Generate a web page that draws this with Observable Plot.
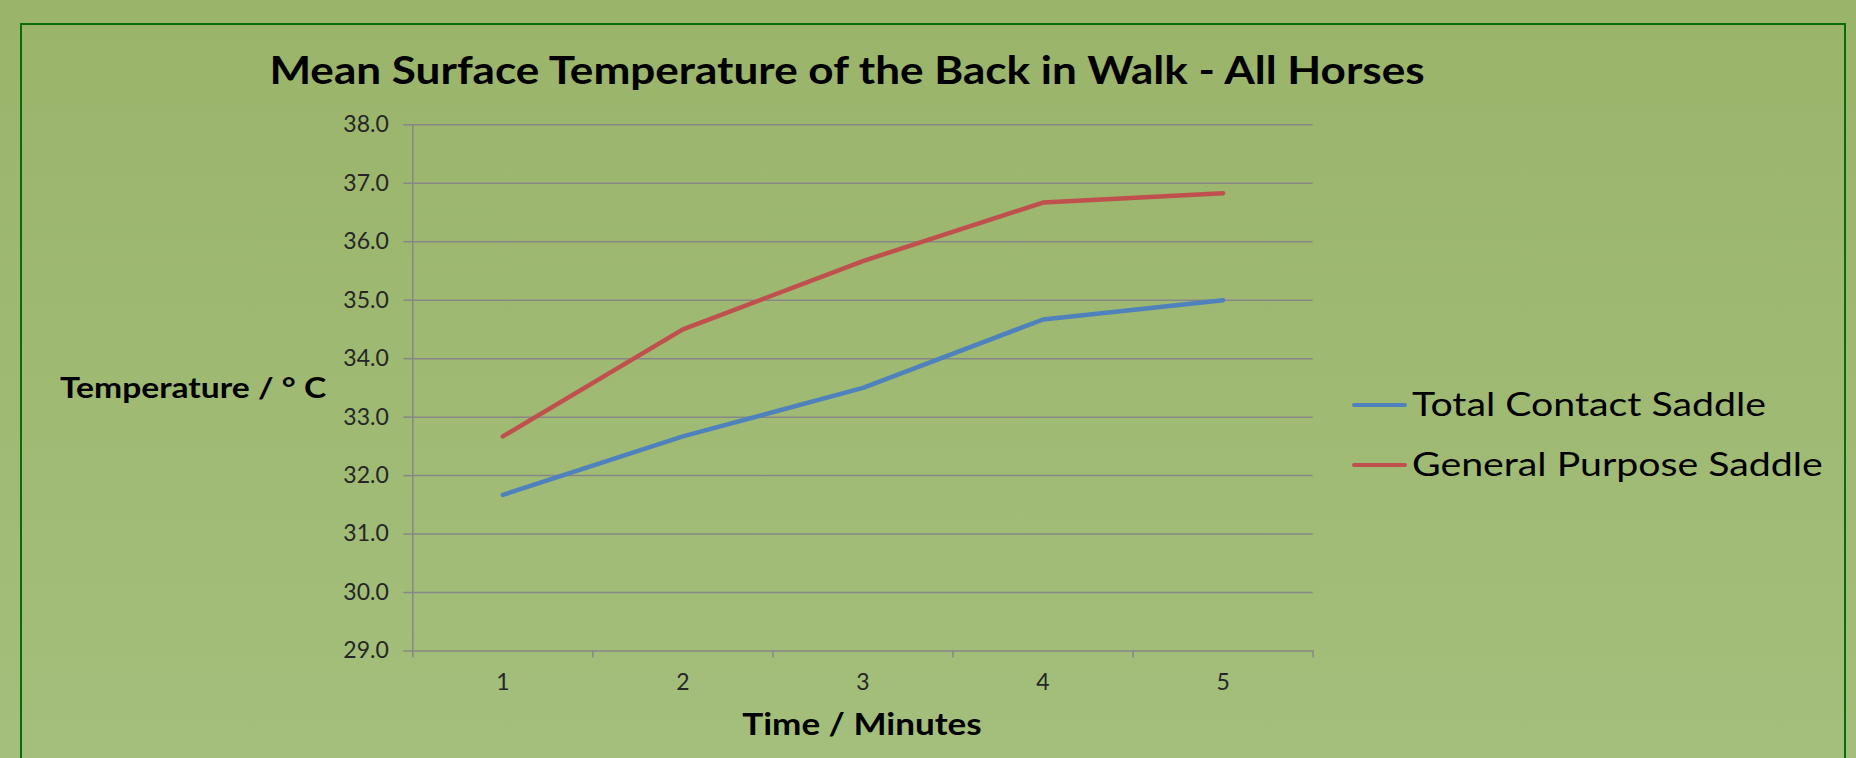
<!DOCTYPE html>
<html>
<head>
<meta charset="utf-8">
<script src="https://cdn.jsdelivr.net/npm/d3@7"></script>
<script src="https://cdn.jsdelivr.net/npm/@observablehq/plot@0.6"></script>
<style>
  html, body { margin: 0; padding: 0; }
  body {
    width: 1856px; height: 758px; overflow: hidden; position: relative;
    background: linear-gradient(to bottom, #9ab46a, #a4bf7b);
    font-family: Lato, "Open Sans", sans-serif; color: #000;
  }
  #frame {
    position: absolute; left: 20px; top: 23px; width: 1822px; height: 800px;
    border: 2.5px solid #0b6b0b; box-sizing: content-box;
  }
  #chart { position: absolute; left: 0; top: 0; }
  .abs { position: absolute; white-space: nowrap; line-height: 1; }
  #title { left: 0; width: 1694px; text-align: center; top: 50.4px; font-size: 39px; font-weight: 700;
    transform: scaleX(1.13); transform-origin: 847px 0; }
  #ytitle { left: 60px; top: 373.2px; font-size: 28px; font-weight: 700;
    transform: scaleX(1.2); transform-origin: 0 0; }
  #xtitle { left: 0; width: 1724px; text-align: center; top: 707.5px; font-size: 31px; font-weight: 700;
    transform: scaleX(1.13); transform-origin: 862px 0; }
  #legend { position: absolute; left: 1352px; top: 0; }
  .item { position: absolute; left: 0; white-space: nowrap; line-height: 1; font-size: 33px; }
  .sw { position: absolute; left: 0; width: 55px; height: 4.5px; border-radius: 2px; }
  .lbl { position: absolute; left: 60px; top: 0; transform: scaleX(1.19); transform-origin: 0 0; }
</style>
</head>
<body>
<div id="frame"></div>
<div id="chart"></div>
<div id="title" class="abs"></div>
<div id="ytitle" class="abs"></div>
<div id="xtitle" class="abs"></div>
<div id="legend"></div>
<script>
// ---- data ----
const minutes = [1, 2, 3, 4, 5];
const totalContact = [31.67, 32.67, 33.5, 34.67, 35.0];
const generalPurpose = [32.67, 34.5, 35.67, 36.67, 36.83];
const seriesNames = ["Total Contact Saddle", "General Purpose Saddle"];
const seriesColors = ["#4f81bd", "#c0504d"];
const yTicks = [29, 30, 31, 32, 33, 34, 35, 36, 37, 38];
const xBoundaries = [0.5, 1.5, 2.5, 3.5, 4.5, 5.5];
const titleText = "Mean Surface Temperature of the Back in Walk - All Horses";
const yTitleText = "Temperature / ° C";
const xTitleText = "Time / Minutes";

const rows = [];
minutes.forEach((m, i) => {
  rows.push({minute: m, temp: totalContact[i], series: seriesNames[0]});
  rows.push({minute: m, temp: generalPurpose[i], series: seriesNames[1]});
});

const grid = "#878787";
const fmtY = d3.format(".1f");
const plot = Plot.plot({
  width: 1856,
  height: 758,
  marginTop: 124.3,
  marginBottom: 107.5,
  marginLeft: 412.3,
  marginRight: 543.4,
  style: {background: "transparent", fontFamily: "Lato, 'Open Sans', sans-serif", overflow: "visible"},
  x: {domain: [0.5, 5.5], axis: null},
  y: {domain: [29, 38], axis: null},
  color: {domain: seriesNames, range: seriesColors},
  marks: [
    Plot.gridY(yTicks, {stroke: grid, strokeOpacity: 1, strokeWidth: 1.5}),
    Plot.ruleX([0.5], {stroke: grid, strokeWidth: 1.5}),
    Plot.axisY({ticks: yTicks, tickSize: 9, tickFormat: () => "", stroke: grid, strokeWidth: 1.5, label: null}),
    Plot.axisX({ticks: xBoundaries, tickSize: 7, tickFormat: () => "", stroke: grid, strokeWidth: 1.5, label: null}),
    Plot.text(yTicks, {y: d => d, frameAnchor: "left", dx: -24, text: d => fmtY(d), textAnchor: "end",
      fill: "#262626", fontSize: 23, lineAnchor: "middle"}),
    Plot.text(minutes, {x: d => d, frameAnchor: "bottom", dy: 32, text: d => String(d),
      fill: "#262626", fontSize: 23, lineAnchor: "middle"}),
    Plot.line(rows, {x: "minute", y: "temp", z: "series", stroke: "series", strokeWidth: 4.5,
      strokeLinejoin: "round", strokeLinecap: "round"})
  ]
});
document.getElementById("chart").appendChild(plot);

document.getElementById("title").textContent = titleText;
document.getElementById("ytitle").textContent = yTitleText;
document.getElementById("xtitle").textContent = xTitleText;

const legend = document.getElementById("legend");
const baselines = [416.7, 476.7];
const swatchY = [405, 465];
seriesNames.forEach((name, i) => {
  const item = document.createElement("div");
  item.className = "item";
  item.style.top = "0px";
  const sw = document.createElement("div");
  sw.className = "sw";
  sw.style.background = seriesColors[i];
  sw.style.top = (swatchY[i] - 2.25) + "px";
  const lbl = document.createElement("div");
  lbl.className = "lbl";
  lbl.textContent = name;
  lbl.style.top = (baselines[i] - 0.887 * 33) + "px";
  item.appendChild(sw);
  item.appendChild(lbl);
  legend.appendChild(item);
});
</script>
</body>
</html>
